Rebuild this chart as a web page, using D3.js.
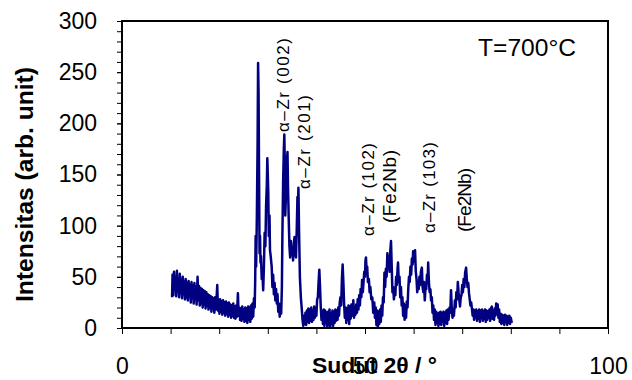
<!DOCTYPE html>
<html>
<head>
<meta charset="utf-8">
<title>XRD T=700C</title>
<script src="https://d3js.org/d3.v7.min.js"></script>
<style>
body { margin: 0; background: #fff; }
text { font-family: Arial, "Liberation Sans", sans-serif; fill: #000; }
</style>
</head>
<body>
<svg width="632" height="380"></svg>
<script>
// 2theta (deg), intensity (arb. unit)
const scan = [
 [10.3,30],[10.4,52],[10.55,32],[10.7,55],[10.85,38],[11.0,50],[11.15,31],[11.3,56],[11.45,36],[11.6,48],
 [11.75,30],[11.9,53],[12.05,34],[12.2,47],[12.35,29],[12.5,50],[12.65,33],[12.8,45],[12.95,28],[13.1,48],
 [13.25,30],[13.4,44],[13.55,27],[13.7,46],[13.85,31],[14.0,42],[14.15,25],[14.3,45],[14.45,29],[14.6,41],
 [14.75,24],[14.9,44],[15.05,28],[15.2,40],[15.35,23],[15.55,50],[15.7,27],[15.85,41],[16.0,22],[16.15,39],
 [16.3,24],[16.45,38],[16.6,20],[16.75,37],[16.9,23],[17.05,36],[17.2,19],[17.35,35],[17.5,22],[17.65,33],
 [17.8,18],[17.95,32],[18.1,20],[18.25,31],[18.4,16],[18.55,30],[18.7,19],[18.85,29],[19.0,15],[19.15,30],
 [19.3,18],[19.45,28],[19.6,42],[19.75,17],[19.9,27],[20.05,14],[20.2,28],[20.35,16],[20.5,26],[20.65,13],
 [20.8,27],[20.95,15],[21.1,25],[21.25,12],[21.4,26],[21.55,14],[21.7,24],[21.85,11],[22.0,25],[22.15,13],
 [22.3,23],[22.45,10],[22.6,22],[22.75,12],[22.9,24],[23.05,10],[23.2,21],[23.35,9],[23.5,22],[23.65,11],
 [23.85,34],[24.0,12],[24.15,20],[24.3,8],[24.45,19],[24.6,7],[24.75,21],[24.9,9],[25.05,18],[25.2,6],
 [25.35,20],[25.5,7],[25.65,19],[25.8,5],[25.95,21],[26.1,8],[26.25,20],[26.4,6],[26.55,22],[26.7,9],
 [26.85,24],[27.0,11],[27.15,29],[27.3,20],[27.4,45],[27.5,90],[27.6,60],[27.75,110],[27.9,180],[28.0,259],
 [28.1,230],[28.2,150],[28.3,73],[28.4,90],[28.5,64],[28.6,70],[28.75,48],[28.9,55],[29.05,37],[29.2,60],
 [29.35,93],[29.5,80],[29.65,120],[29.8,140],[29.9,166],[30.0,150],[30.1,132],[30.2,90],[30.35,110],[30.45,76],
 [30.6,70],[30.8,60],[30.95,40],[31.1,52],[31.25,33],[31.4,44],[31.55,27],[31.7,38],[31.85,24],[32.0,33],
 [32.15,16],[32.3,24],[32.45,11],[32.6,22],[32.75,14],[32.9,40],[33.0,89],[33.15,142],[33.3,175],[33.4,189],
 [33.5,160],[33.6,110],[33.7,125],[33.8,148],[33.95,165],[34.05,172],[34.15,140],[34.3,108],[34.45,80],[34.6,69],
 [34.75,85],[34.9,72],[35.05,79],[35.2,66],[35.35,82],[35.5,89],[35.65,74],[35.8,69],[35.95,95],[36.1,128],
 [36.2,118],[36.3,137],[36.45,90],[36.6,50],[36.8,30],[37.0,18],[37.15,8],[37.3,2],[37.45,12],[37.6,4],
 [37.75,15],[37.9,3],[38.05,17],[38.2,6],[38.35,19],[38.5,5],[38.65,18],[38.8,7],[38.95,20],[39.1,6],
 [39.25,17],[39.4,8],[39.55,21],[39.7,10],[39.85,19],[40.0,12],[40.15,28],[40.3,30],[40.45,45],[40.6,57],
 [40.75,40],[40.9,20],[41.05,8],[41.2,16],[41.35,4],[41.5,18],[41.65,2],[41.8,17],[41.95,5],[42.1,15],
 [42.25,1],[42.4,16],[42.55,3],[42.7,18],[42.85,1],[43.0,14],[43.15,4],[43.3,17],[43.45,2],[43.6,16],
 [43.75,5],[43.9,18],[44.05,7],[44.2,17],[44.35,8],[44.5,20],[44.65,12],[44.8,25],[44.95,30],[45.1,22],
 [45.25,48],[45.4,62],[45.55,45],[45.7,24],[45.85,10],[46.0,20],[46.15,5],[46.3,19],[46.45,8],[46.6,22],
 [46.75,4],[46.9,21],[47.05,9],[47.2,23],[47.35,12],[47.5,20],[47.6,27],[47.75,10],[47.9,19],[48.05,13],
 [48.2,23],[48.35,15],[48.5,28],[48.65,18],[48.8,32],[48.95,22],[49.1,38],[49.25,30],[49.4,47],[49.55,35],
 [49.7,45],[49.85,55],[50.0,50],[50.1,66],[50.2,69],[50.3,58],[50.45,60],[50.6,45],[50.8,48],[50.95,35],
 [51.1,40],[51.3,28],[51.5,30],[51.7,15],[51.9,25],[52.05,10],[52.2,20],[52.35,3],[52.5,17],[52.65,1],
 [52.8,16],[52.95,4],[53.1,18],[53.25,6],[53.4,22],[53.55,12],[53.7,30],[53.85,25],[54.0,54],[54.15,40],
 [54.3,58],[54.45,50],[54.6,73],[54.75,62],[54.9,70],[55.05,55],[55.2,75],[55.35,85],[55.5,60],[55.65,35],
 [55.8,40],[55.95,28],[56.1,38],[56.25,32],[56.4,50],[56.55,42],[56.7,58],[56.8,64],[56.95,45],[57.1,50],
 [57.25,30],[57.4,40],[57.55,22],[57.7,30],[57.85,12],[58.0,24],[58.15,8],[58.3,22],[58.45,10],[58.6,26],
 [58.75,20],[58.9,38],[59.05,50],[59.2,45],[59.35,60],[59.5,52],[59.65,68],[59.8,62],[59.9,75],[60.05,65],
 [60.2,72],[60.3,76],[60.45,55],[60.6,48],[60.75,35],[60.9,44],[61.05,38],[61.2,50],[61.35,42],[61.5,55],
 [61.7,59],[61.85,40],[62.0,35],[62.15,45],[62.3,27],[62.45,40],[62.6,38],[62.75,52],[62.9,48],[63.0,64],
 [63.15,45],[63.3,35],[63.45,38],[63.6,27],[63.75,30],[63.9,15],[64.05,22],[64.2,8],[64.35,18],[64.5,3],
 [64.65,16],[64.8,5],[64.95,14],[65.1,2],[65.25,15],[65.4,4],[65.55,16],[65.7,3],[65.85,14],[66.0,6],
 [66.15,16],[66.3,2],[66.45,15],[66.6,5],[66.75,17],[66.9,4],[67.05,18],[67.2,8],[67.4,20],[67.55,15],
 [67.7,37],[67.85,20],[68.0,10],[68.15,18],[68.3,12],[68.5,27],[68.65,20],[68.8,35],[68.95,28],[69.1,45],
 [69.25,35],[69.4,28],[69.55,21],[69.7,30],[69.85,32],[70.0,42],[70.15,35],[70.3,48],[70.45,40],[70.6,54],
 [70.8,59],[70.95,48],[71.1,40],[71.25,44],[71.4,34],[71.55,28],[71.7,22],[71.85,25],[72.0,19],[72.15,12],
 [72.3,18],[72.45,8],[72.6,17],[72.75,10],[72.9,18],[73.05,7],[73.2,16],[73.35,9],[73.5,18],[73.65,6],
 [73.8,17],[73.95,10],[74.1,18],[74.25,7],[74.4,16],[74.55,9],[74.7,18],[74.85,6],[75.0,17],[75.15,8],
 [75.3,16],[75.45,10],[75.6,18],[75.75,7],[75.9,19],[76.1,21],[76.25,9],[76.4,17],[76.55,8],[76.7,19],
 [76.85,12],[77.0,24],[77.15,14],[77.3,23],[77.45,10],[77.6,18],[77.75,6],[77.9,14],[78.05,4],[78.2,13],
 [78.35,5],[78.5,12],[78.65,3],[78.8,13],[78.95,6],[79.1,12],[79.25,3],[79.4,11],[79.55,5],[79.7,12],
 [79.85,4],[80.0,10],[80.2,5]
];

const yTickValues = [0, 50, 100, 150, 200, 250, 300];
const yMinorValues = [0,10,20,30,40,50,60,70,80,90,100,110,120,130,140,150,160,170,180,190,200,210,220,230,240,250,260,270,280,290,300];
const xTickValues = [0, 10, 20, 30, 40, 50, 60, 70, 80, 90, 100];
const xLabelValues = [0, 50, 100];

// peak annotations, anchored at (2theta, intensity) where the rotated text starts
const peakLabels = [
  { text: "α–Zr (002)", at: [34.36, 191.5], serif: true, len: 94 },
  { text: "α–Zr (201)", at: [38.68, 135.8], serif: true, len: 94 },
  { text: "α–Zr (102)", at: [51.85, 89.9], serif: true, len: 93 },
  { text: "(Fe2Nb)", at: [56.38, 102.6], serif: false, len: 73 },
  { text: "α–Zr (103)", at: [64.4, 92.8], serif: true, len: 91 },
  { text: "(Fe2Nb)", at: [71.8, 93.8], serif: false, len: 64 }
];

const svg = d3.select("svg");
svg.append("rect").attr("width", 632).attr("height", 380).attr("fill", "#fff");

var x = d3.scaleLinear().domain([0, 100]).range([122, 608]);
var y = d3.scaleLinear().domain([0, 300]).range([328, 21]);

// y minor ticks
svg.append("g")
  .attr("transform", "translate(122,0)")
  .call(d3.axisLeft(y).tickValues(yMinorValues).tickSize(5).tickFormat(""))
  .call(g => g.select(".domain").remove())
  .selectAll("line").attr("stroke", "#000").attr("stroke-width", 1);

// y labels
svg.append("g")
  .attr("transform", "translate(122,0)")
  .call(d3.axisLeft(y).tickValues(yTickValues).tickSize(5).tickPadding(20))
  .call(g => g.select(".domain").remove())
  .call(g => g.selectAll("line").attr("stroke", "#000"))
  .selectAll("text")
    .attr("font-size", 23)
    .attr("font-family", "Arial, 'Liberation Sans', sans-serif")
    .attr("fill", "#000");

// x ticks
svg.append("g")
  .attr("transform", "translate(0,328)")
  .call(d3.axisBottom(x).tickValues(xTickValues).tickSize(6).tickFormat(""))
  .call(g => g.select(".domain").remove())
  .selectAll("line").attr("stroke", "#000").attr("stroke-width", 1);

// x labels, set far below the axis as in the original
svg.append("g")
  .attr("transform", "translate(0,328)")
  .call(d3.axisBottom(x).tickValues(xLabelValues).tickSize(0).tickPadding(30))
  .call(g => g.select(".domain").remove())
  .selectAll("text")
    .attr("font-size", 23)
    .attr("font-family", "Arial, 'Liberation Sans', sans-serif")
    .attr("fill", "#000");

// the scan
svg.append("path")
  .datum(scan)
  .attr("fill", "none")
  .attr("stroke", "#000080")
  .attr("stroke-width", 2.5)
  .attr("stroke-linejoin", "round")
  .attr("d", d3.line().x(d => x(d[0])).y(d => y(d[1])));

// frame
svg.append("rect")
  .attr("x", x(0)).attr("y", y(300))
  .attr("width", x(100) - x(0)).attr("height", y(0) - y(300))
  .attr("fill", "none").attr("stroke", "#000").attr("stroke-width", 2);

// peak labels
svg.append("g").selectAll("text")
  .data(peakLabels)
  .enter()
  .append("text")
    .attr("transform", d => "translate(" + x(d.at[0]) + "," + y(d.at[1]) + ") rotate(-90)")
    .attr("font-family", d => d.serif ? "'Liberation Serif', 'Times New Roman', serif" : "Arial, 'Liberation Sans', sans-serif")
    .attr("font-size", d => d.serif ? 17 : 19)
    .attr("textLength", d => d.len)
    .attr("lengthAdjust", "spacing")
    .text(d => d.text);

// temperature note
svg.append("text")
  .attr("x", 478).attr("y", 56)
  .attr("font-size", 23)
  .attr("textLength", 98)
  .attr("lengthAdjust", "spacingAndGlyphs")
  .text("T=700°C");

// axis titles
svg.append("text")
  .attr("transform", "translate(33,302) rotate(-90)")
  .attr("font-size", 23)
  .attr("font-weight", "bold")
  .attr("textLength", 235)
  .attr("lengthAdjust", "spacingAndGlyphs")
  .text("Intensitas (arb. unit)");

svg.append("text")
  .attr("x", 312).attr("y", 373)
  .attr("font-size", 22)
  .attr("font-weight", "bold")
  .attr("textLength", 125)
  .attr("lengthAdjust", "spacingAndGlyphs")
  .text("Sudut 2θ / °");
</script>
</body>
</html>
